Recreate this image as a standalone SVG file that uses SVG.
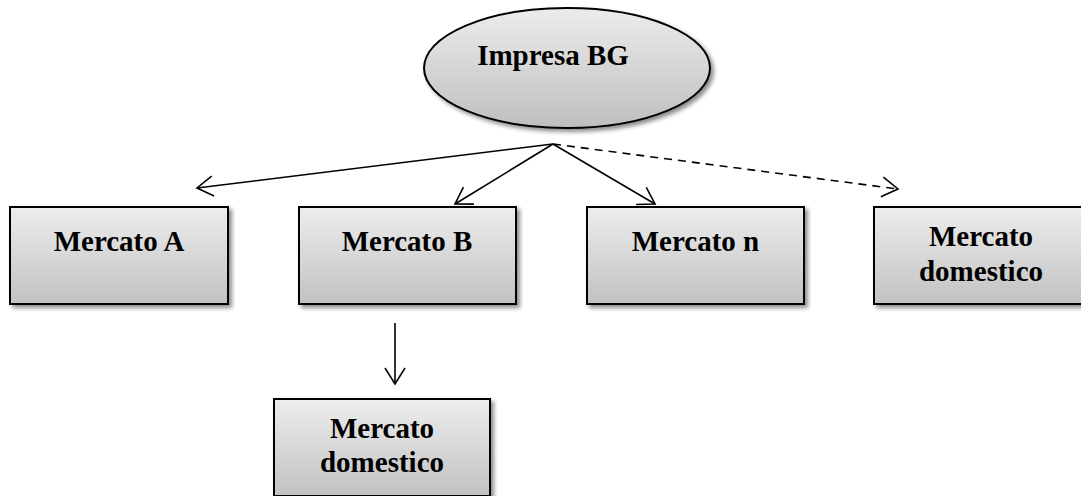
<svg xmlns="http://www.w3.org/2000/svg" width="1081" height="496" viewBox="0 0 1081 496">
  <style>
    .shape { stroke: #000; stroke-width: 2; filter: url(#shadow); }
    .box { fill: url(#boxFill); }
    .oval { fill: url(#ovalFill); }
    .label { font-family: "Liberation Serif", "Times New Roman", serif; font-weight: bold; font-size: 29px; fill: #000; text-anchor: middle; }
    .link { stroke: #000; stroke-width: 1.6; fill: none; marker-end: url(#openArrow); }
    .dashed { stroke-dasharray: 8 6; }
  </style>
  <defs>
    <linearGradient id="boxFill" x1="0" y1="0" x2="0" y2="1">
      <stop offset="0" stop-color="#ededed"/>
      <stop offset="1" stop-color="#c2c2c2"/>
    </linearGradient>
    <linearGradient id="ovalFill" x1="0" y1="0" x2="0" y2="1">
      <stop offset="0" stop-color="#ececec"/>
      <stop offset="1" stop-color="#bfbfbf"/>
    </linearGradient>
    <filter id="shadow" x="-10%" y="-10%" width="130%" height="130%">
      <feGaussianBlur in="SourceAlpha" stdDeviation="2"/>
      <feOffset dx="3" dy="3" result="blur"/>
      <feComponentTransfer><feFuncA type="linear" slope="0.45"/></feComponentTransfer>
      <feMerge><feMergeNode/><feMergeNode in="SourceGraphic"/></feMerge>
    </filter>
    <marker id="openArrow" markerUnits="userSpaceOnUse" markerWidth="22" markerHeight="24" viewBox="0 0 22 24" refX="19" refY="12" orient="auto">
      <path d="M3,2 L19,12 L3,22" fill="none" stroke="#000" stroke-width="1.6"/>
    </marker>
  </defs>

  <g id="connectors">
    <line class="link" x1="553" y1="144" x2="197" y2="188"/>
    <line class="link" x1="553" y1="144" x2="455" y2="204"/>
    <line class="link" x1="553" y1="144" x2="655" y2="204"/>
    <line class="link dashed" x1="553" y1="144" x2="898" y2="189"/>
    <line class="link" x1="395" y1="323" x2="395" y2="384"/>
  </g>

  <g id="impresa-bg">
    <ellipse class="shape oval" cx="567" cy="68" rx="143" ry="60"/>
    <text class="label" x="553" y="65">Impresa BG</text>
  </g>

  <g id="mercato-a">
    <rect class="shape box" x="10" y="207" width="218" height="97"/>
    <text class="label" x="119" y="251">Mercato A</text>
  </g>

  <g id="mercato-b">
    <rect class="shape box" x="299" y="207" width="217" height="97"/>
    <text class="label" x="407" y="251">Mercato B</text>
  </g>

  <g id="mercato-n">
    <rect class="shape box" x="587" y="207" width="217" height="97"/>
    <text class="label" x="695.5" y="251">Mercato n</text>
  </g>

  <g id="mercato-domestico-right">
    <rect class="shape box" x="874" y="207" width="214" height="97"/>
    <text class="label" x="981" y="246">Mercato</text>
    <text class="label" x="981" y="281">domestico</text>
  </g>

  <g id="mercato-domestico-bottom">
    <rect class="shape box" x="274" y="399" width="216" height="97"/>
    <text class="label" x="382" y="438">Mercato</text>
    <text class="label" x="382" y="472">domestico</text>
  </g>
</svg>
